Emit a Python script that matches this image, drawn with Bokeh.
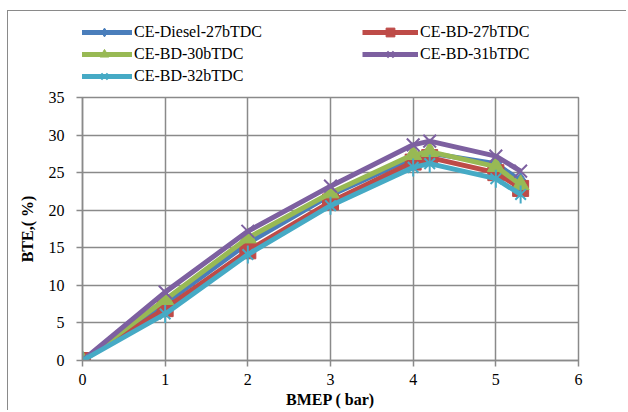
import math
from bokeh.plotting import figure
from bokeh.layouts import column
from bokeh.models import Legend, LegendItem, Range1d, FixedTicker, ColumnDataSource
from bokeh.embed import file_html
from bokeh.resources import INLINE

bmep = [0, 1, 2, 3, 4, 4.2, 5, 5.3]
diesel_27 = [0, 7.6, 15.6, 22.0, 27.0, 27.6, 26.2, 23.9]
bd_27 = [0, 6.9, 14.6, 21.1, 26.4, 27.0, 25.0, 22.9]
bd_30 = [0, 8.1, 16.3, 22.3, 27.4, 27.8, 25.8, 23.4]
bd_31 = [0, 9.1, 17.2, 23.2, 28.7, 29.2, 27.2, 25.2]
bd_32 = [0, 6.2, 14.1, 20.6, 25.7, 26.2, 24.2, 22.1]
names = ["CE-Diesel-27bTDC", "CE-BD-27bTDC", "CE-BD-30bTDC", "CE-BD-31bTDC", "CE-BD-32bTDC"]
x_ticks = [0, 1, 2, 3, 4, 5, 6]
y_ticks = [0, 5, 10, 15, 20, 25, 30, 35]

FONT = "Liberation Serif"
GRID = "#8a8a8a"
colors = ["#4a7ebb", "#be4b48", "#98b954", "#7d60a0", "#46aac5"]
cols = ["d27", "b27", "b30", "b31", "b32"]


def add_series(fig, src, col, c, i):
    rs = [fig.line("x", col, source=src, line_color=c, line_width=5)]
    if i == 0:
        rs.append(fig.scatter("x", col, source=src, marker="diamond", size=17, color=c))
    elif i == 1:
        rs.append(fig.scatter("x", col, source=src, marker="square", size=16, color=c))
    elif i == 2:
        rs.append(fig.scatter("x", col, source=src, marker="triangle", size=17, color=c))
    elif i == 3:
        rs.append(fig.scatter("x", col, source=src, marker="x", size=18, line_color=c, line_width=2))
    else:
        rs.append(fig.scatter("x", col, source=src, marker="x", size=15, line_color=c, line_width=2))
        rs.append(fig.scatter("x", col, source=src, marker="dash", angle=math.pi / 2, size=18,
                              line_color=c, line_width=2))
    return rs


src = ColumnDataSource(dict(x=bmep, d27=diesel_27, b27=bd_27, b30=bd_30, b31=bd_31, b32=bd_32))

# ---- main plot ----
p = figure(width=618, height=323, output_backend="svg", toolbar_location=None,
           x_range=Range1d(0, 6), y_range=Range1d(0, 35),
           min_border_left=74, min_border_right=48, min_border_top=10, min_border_bottom=49)
p.background_fill_color = "white"
p.border_fill_color = "white"
p.outline_line_color = GRID
p.outline_line_width = 1.5

p.xaxis.ticker = FixedTicker(ticks=x_ticks)
p.yaxis.ticker = FixedTicker(ticks=y_ticks)
p.xgrid.ticker = FixedTicker(ticks=x_ticks)
p.ygrid.ticker = FixedTicker(ticks=y_ticks)
for g in (p.xgrid, p.ygrid):
    g.grid_line_color = GRID
    g.grid_line_width = 1.5
for ax in (p.xaxis, p.yaxis):
    ax.axis_line_color = GRID
    ax.axis_line_width = 1.5
    ax.major_tick_line_color = GRID
    ax.major_tick_line_width = 1.5
    ax.major_tick_out = 6
    ax.major_tick_in = 0
    ax.minor_tick_line_color = None
    ax.major_label_text_font = FONT
    ax.major_label_text_font_size = "16px"
    ax.major_label_text_color = "black"
    ax.axis_label_text_font = FONT
    ax.axis_label_text_font_size = "16px"
    ax.axis_label_text_font_style = "bold"
    ax.axis_label_text_color = "black"
p.xaxis.axis_label = "BMEP ( bar)"
p.yaxis.axis_label = "BTE,( %)"
p.xaxis.major_label_standoff = 7
p.xaxis.axis_label_standoff = 3
p.yaxis.major_label_standoff = 12
p.yaxis.axis_label_standoff = 10

for i, (col, c) in enumerate(zip(cols, colors)):
    add_series(p, src, col, c, i)

# ---- legend strip: same series, view range chosen so only the legend shows ----
lf = figure(width=618, height=76, output_backend="svg", toolbar_location=None,
            x_range=Range1d(-20, -19), y_range=Range1d(-20, -19),
            x_axis_location=None, y_axis_location=None,
            min_border_left=0, min_border_right=0, min_border_top=0, min_border_bottom=0)
lf.grid.visible = False
lf.outline_line_color = None
lf.background_fill_color = "white"
lf.border_fill_color = "white"
items = []
for i, (col, c, name) in enumerate(zip(cols, colors, names)):
    rs = add_series(lf, src, col, c, i)
    items.append(LegendItem(label=name, renderers=rs))


def make_legend(its, loc):
    lg = Legend(items=its, location=loc, orientation="vertical")
    lg.label_text_font = FONT
    lg.label_text_font_size = "16px"
    lg.label_text_color = "black"
    lg.glyph_width = 56
    lg.glyph_height = 22
    lg.label_height = 22
    lg.label_standoff = 2
    lg.spacing = 0
    lg.padding = 0
    lg.margin = 0
    lg.border_line_color = None
    lg.background_fill_alpha = 0
    return lg


lf.add_layout(make_legend([items[0], items[2], items[4]], (-6, 0)), "center")
lf.add_layout(make_legend([items[1], items[3]], (280, 22)), "center")

layout = column(lf, p, spacing=0)
layout.styles = {"margin-left": "7px", "margin-top": "10px",
                 "border-left": "1px solid #8a8a8a", "border-top": "1px solid #8a8a8a"}

open("out.html", "w").write(file_html(layout, INLINE))
